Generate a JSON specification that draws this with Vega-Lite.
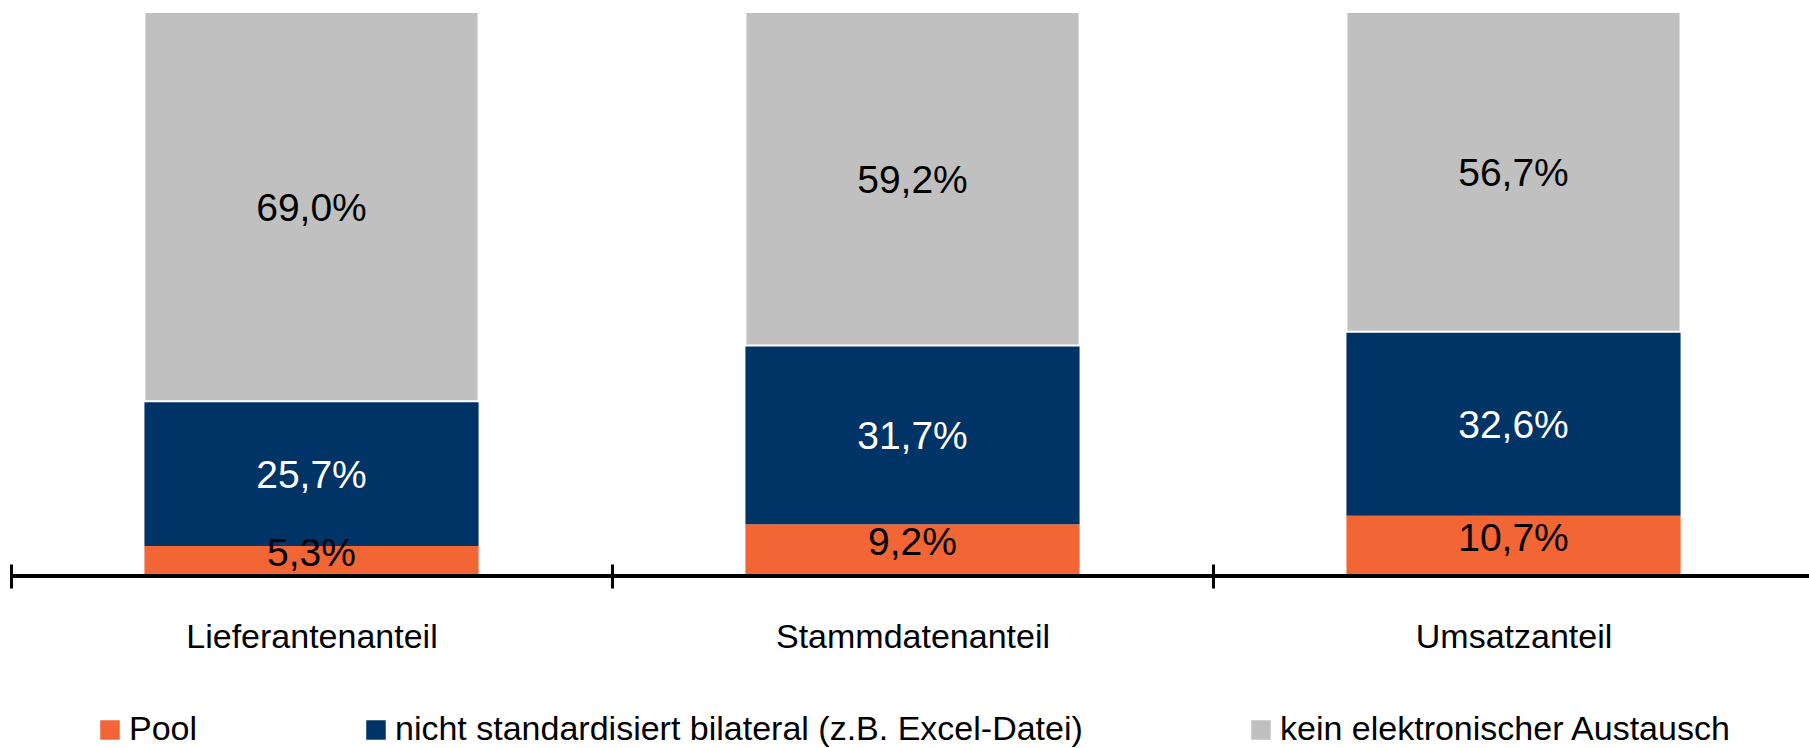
{
  "$schema": "https://vega.github.io/schema/vega-lite/v6.json",
  "width": 1798,
  "height": 564,
  "autosize": {"type": "none"},
  "padding": {"left": 11, "top": 12, "right": 0, "bottom": 172},
  "config": {
    "view": {"stroke": null},
    "font": "Liberation Sans",
    "locale": {"number": {"decimal": ",", "thousands": ".", "grouping": [3], "currency": ["", " €"]}}
  },
  "data": {
    "values": [
      {"kategorie": "Lieferantenanteil", "serie": "Pool", "order": 1, "value": 0.053},
      {"kategorie": "Lieferantenanteil", "serie": "nicht standardisiert bilateral (z.B. Excel-Datei)", "order": 2, "value": 0.257},
      {"kategorie": "Lieferantenanteil", "serie": "kein elektronischer Austausch", "order": 3, "value": 0.690},
      {"kategorie": "Stammdatenanteil", "serie": "Pool", "order": 1, "value": 0.092},
      {"kategorie": "Stammdatenanteil", "serie": "nicht standardisiert bilateral (z.B. Excel-Datei)", "order": 2, "value": 0.317},
      {"kategorie": "Stammdatenanteil", "serie": "kein elektronischer Austausch", "order": 3, "value": 0.592},
      {"kategorie": "Umsatzanteil", "serie": "Pool", "order": 1, "value": 0.107},
      {"kategorie": "Umsatzanteil", "serie": "nicht standardisiert bilateral (z.B. Excel-Datei)", "order": 2, "value": 0.326},
      {"kategorie": "Umsatzanteil", "serie": "kein elektronischer Austausch", "order": 3, "value": 0.567}
    ]
  },
  "transform": [
    {"stack": "value", "groupby": ["kategorie"], "sort": [{"field": "order", "order": "ascending"}], "as": ["y0", "y1"], "offset": "normalize"}
  ],
  "encoding": {
    "x": {
      "field": "kategorie",
      "type": "nominal",
      "sort": ["Lieferantenanteil", "Stammdatenanteil", "Umsatzanteil"],
      "scale": {"range": [0, 1803], "paddingInner": 0, "paddingOuter": 0},
      "axis": {
        "title": null,
        "domain": false,
        "grid": false,
        "tickBand": "extent",
        "offset": -12,
        "tickSize": 24,
        "tickWidth": 3,
        "tickColor": "black",
        "labelAngle": 0,
        "labelFontSize": 34,
        "labelColor": "black",
        "labelFont": "Liberation Sans",
        "labelBaseline": "alphabetic",
        "labelPadding": 59,
        "labelDx": 4,
        "labelLimit": 1000
      }
    }
  },
  "layer": [
    {
      "mark": {"type": "bar", "strokeWidth": 2, "width": {"band": 0.556}},
      "encoding": {
        "y": {"field": "y0", "type": "quantitative", "scale": {"domain": [0, 1]}, "axis": null},
        "y2": {"field": "y1"},
        "color": {
          "field": "serie",
          "type": "nominal",
          "scale": {
            "domain": ["Pool", "nicht standardisiert bilateral (z.B. Excel-Datei)", "kein elektronischer Austausch"],
            "range": ["#F26534", "#003366", "#C0C0C0"]
          },
          "legend": {
            "title": null,
            "orient": "none",
            "legendX": 82,
            "legendY": 701,
            "direction": "horizontal",
            "columns": 3,
            "symbolType": "square",
            "symbolSize": 380,
            "symbolStrokeWidth": 0,
            "labelFontSize": 34,
            "labelOffset": 2,
            "columnPadding": 161,
            "labelLimit": 1000,
            "padding": 0,
            "labelColor": "black",
            "labelFont": "Liberation Sans"
          }
        },
        "stroke": {
          "condition": {"test": "datum.serie === 'kein elektronischer Austausch'", "value": "white"},
          "value": "transparent"
        }
      }
    },
    {
      "transform": [
        {"fold": ["y0", "y1"], "as": ["kante", "pos"]},
        {"aggregate": [{"op": "mean", "field": "pos", "as": "mitte"}, {"op": "max", "field": "value", "as": "anteil"}], "groupby": ["kategorie", "serie"]},
        {"filter": "datum.serie !== 'Pool'"}
      ],
      "mark": {"type": "text", "fontSize": 39, "font": "Liberation Sans", "baseline": "middle", "dy": 2},
      "encoding": {
        "y": {"field": "mitte", "type": "quantitative"},
        "text": {"field": "anteil", "type": "quantitative", "format": ".1%"},
        "color": {
          "condition": {"test": "datum.serie === 'nicht standardisiert bilateral (z.B. Excel-Datei)'", "value": "white"},
          "value": "black"
        }
      }
    },
    {
      "transform": [
        {"fold": ["y0", "y1"], "as": ["kante", "pos"]},
        {"aggregate": [{"op": "mean", "field": "pos", "as": "mitte"}, {"op": "max", "field": "value", "as": "anteil"}], "groupby": ["kategorie", "serie"]},
        {"filter": "datum.serie === 'Pool'"}
      ],
      "mark": {"type": "text", "fontSize": 39, "font": "Liberation Sans", "baseline": "middle", "dy": -7, "color": "black"},
      "encoding": {
        "y": {"field": "mitte", "type": "quantitative"},
        "text": {"field": "anteil", "type": "quantitative", "format": ".1%"}
      }
    },
    {
      "mark": {"type": "rule", "strokeWidth": 3.5, "color": "black"},
      "encoding": {
        "x": {"value": 0},
        "x2": {"value": "width"},
        "y": {"datum": 0}
      }
    }
  ]
}
